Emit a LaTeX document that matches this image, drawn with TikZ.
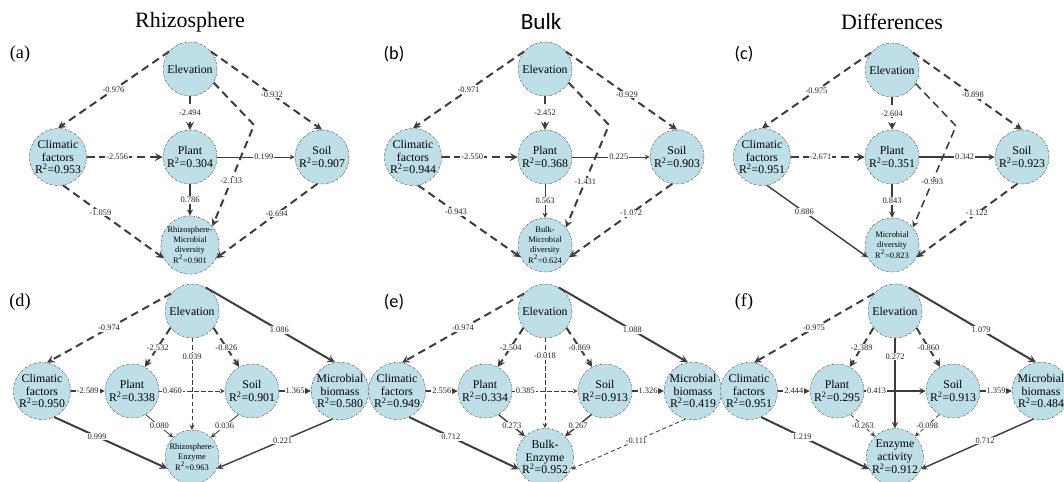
\documentclass[tikz,border=0pt]{standalone}
\usepackage{fontspec}
\setmainfont{Liberation Serif}
\newfontfamily\calibri{Carlito}
\usepackage{xcolor}
\usepackage{tikz}
\usetikzlibrary{arrows, positioning}
\definecolor{nodeblue}{RGB}{190,223,231}
\definecolor{rimgray}{RGB}{90,90,90}
\definecolor{linegray}{RGB}{60,60,60}
\tikzstyle{var} = [circle, minimum size=1.35cm, inner sep=0pt, align=center, draw=rimgray, line width=0.35pt, dash pattern=on 1.6pt off 0.8pt on 0.4pt off 0.8pt, fill=nodeblue, font=\fontsize{8.4}{9.2}\selectfont]
\tikzstyle{smallvar} = [var, font=\fontsize{6}{7}\selectfont]
\tikzstyle{posline} = [->, >=stealth, draw=linegray, line width=0.6pt]
\tikzstyle{poslinemid} = [posline, line width=1pt]
\tikzstyle{poslinethick} = [posline, line width=1.4pt]
\tikzstyle{negline} = [posline, dash pattern=on 3pt off 2pt]
\tikzstyle{neglinethick} = [posline, line width=1.4pt, dash pattern=on 5.5pt off 3.5pt]
\tikzstyle{coef} = [font=\fontsize{6}{7}\selectfont, fill=white, inner sep=0.6pt, text=black!85]
\tikzstyle{heading} = [font=\fontsize{15.6}{18}\selectfont]
\tikzstyle{tag} = [font=\fontsize{13}{15}\selectfont]

\begin{document}
\begin{tikzpicture}[node distance=2cm]
\fill[white] (0,0) rectangle (26.6,-12.025);
\useasboundingbox (0,0) rectangle (26.6,-12.025);

% Headings
\node (headA) [heading] at (4.75,-0.55) {Rhizosphere};
\node (headB) [heading, font=\calibri\fontsize{16.5}{18}\selectfont] at (13.53,-0.55) {Bulk};
\node (headC) [heading] at (22.3,-0.55) {Differences};
\node (tagA) [tag] at (0.5,-1.35) {(a)};
\node (tagB) [tag, font=\calibri\fontsize{13}{15}\selectfont] at (9.85,-1.35) {(b)};
\node (tagC) [tag, font=\calibri\fontsize{13}{15}\selectfont] at (18.6,-1.35) {(c)};
\node (tagD) [tag] at (0.5,-7.55) {(d)};
\node (tagE) [tag, font=\calibri\fontsize{13}{15}\selectfont] at (9.85,-7.55) {(e)};
\node (tagF) [tag] at (18.6,-7.55) {(f)};

% Panel (a)
\node (elevA) [var] at (4.75,-1.725) {Elevation};
\node (plantA) [var, below of=elevA, yshift=-0.2cm] {Plant\\R\textsuperscript{2}=0.304};
\node (climA) [var, left of=plantA, xshift=-1.3cm] {Climatic\\factors\\R\textsuperscript{2}=0.953};
\node (soilA) [var, right of=plantA, xshift=1.3cm] {Soil\\R\textsuperscript{2}=0.907};
\node (divA) [smallvar, below of=plantA, yshift=-0.2cm] {Rhizosphere-\\Microbial\\diversity\\R\textsuperscript{2}=0.901};
\coordinate (kneeA) at ([xshift=1.6cm, yshift=-1.4cm]elevA.center);

\draw [neglinethick] (elevA.140) -- node[coef] {-0.976} (climA.north);
\draw [neglinethick] (elevA.40) -- node[coef, pos=0.55] {-0.932} (soilA.north);
\draw [neglinethick] (elevA.south) -- node[coef] {-2.494} (plantA.north);
\draw [neglinethick] (elevA.-30) -- (kneeA) -- node[coef, pos=0.55] {-2.133} (divA.40);
\draw [neglinethick] (climA.east) -- node[coef, pos=0.4] {-2.556} (plantA.west);
\draw [posline] (plantA.east) -- node[coef, pos=0.6] {0.199} (soilA.west);
\draw [poslinemid] (plantA.south) -- node[coef] {0.786} (divA.north);
\draw [neglinethick] (climA.-80) -- node[coef, pos=0.37] {-1.059} (divA.207);
\draw [neglinethick] (soilA.-100) -- node[coef, pos=0.4] {-0.694} (divA.-27);

% Panel (b)
\node (elevB) [var] at (13.625,-1.725) {Elevation};
\node (plantB) [var, below of=elevB, yshift=-0.2cm] {Plant\\R\textsuperscript{2}=0.368};
\node (climB) [var, left of=plantB, xshift=-1.3cm] {Climatic\\factors\\R\textsuperscript{2}=0.944};
\node (soilB) [var, right of=plantB, xshift=1.3cm] {Soil\\R\textsuperscript{2}=0.903};
\node (divB) [smallvar, below of=plantB, yshift=-0.2cm] {Bulk-\\Microbial\\diversity\\R\textsuperscript{2}=0.624};
\coordinate (kneeB) at ([xshift=1.6cm, yshift=-1.4cm]elevB.center);

\draw [neglinethick] (elevB.140) -- node[coef] {-0.971} (climB.north);
\draw [neglinethick] (elevB.40) -- node[coef, pos=0.55] {-0.929} (soilB.north);
\draw [neglinethick] (elevB.south) -- node[coef] {-2.452} (plantB.north);
\draw [neglinethick] (elevB.-30) -- (kneeB) -- node[coef, pos=0.55] {-1.431} (divB.40);
\draw [neglinethick] (climB.east) -- node[coef, pos=0.4] {-2.550} (plantB.west);
\draw [posline] (plantB.east) -- node[coef, pos=0.6] {0.225} (soilB.west);
\draw [posline] (plantB.south) -- node[coef] {0.563} (divB.north);
\draw [neglinethick] (climB.-80) -- node[coef, pos=0.37] {-0.943} (divB.207);
\draw [neglinethick] (soilB.-100) -- node[coef, pos=0.4] {-1.072} (divB.-27);

% Panel (c)
\node (elevC) [var] at (22.3,-1.75) {Elevation};
\node (plantC) [var, below of=elevC, yshift=-0.175cm] {Plant\\R\textsuperscript{2}=0.351};
\node (climC) [var, left of=plantC, xshift=-1.25cm] {Climatic\\factors\\R\textsuperscript{2}=0.951};
\node (soilC) [var, right of=plantC, xshift=1.25cm] {Soil\\R\textsuperscript{2}=0.923};
\node (divC) [smallvar, below of=plantC, yshift=-0.2cm] {Microbial\\diversity\\R\textsuperscript{2}=0.823};
\coordinate (kneeC) at ([xshift=1.6cm, yshift=-1.4cm]elevC.center);

\draw [neglinethick] (elevC.140) -- node[coef] {-0.975} (climC.north);
\draw [neglinethick] (elevC.40) -- node[coef, pos=0.55] {-0.898} (soilC.north);
\draw [neglinethick] (elevC.south) -- node[coef] {-2.604} (plantC.north);
\draw [neglinethick, line width=1.1pt] (elevC.-30) -- (kneeC) -- node[coef, pos=0.55] {-0.993} (divC.40);
\draw [neglinethick] (climC.east) -- node[coef, pos=0.4] {-2.671} (plantC.west);
\draw [poslinemid] (plantC.east) -- node[coef, pos=0.6] {0.342} (soilC.west);
\draw [poslinemid] (plantC.south) -- node[coef] {0.843} (divC.north);
\draw [poslinemid] (climC.-80) -- node[coef, pos=0.37] {0.886} (divC.207);
\draw [neglinethick] (soilC.-100) -- node[coef, pos=0.4] {-1.122} (divC.-27);

% Panel (d)
\node (elevD) [var] at (4.8,-7.775) {Elevation};
\node (plantD) [var, below of=elevD, xshift=-1.5cm] {Plant\\R\textsuperscript{2}=0.338};
\node (soilD) [var, below of=elevD, xshift=1.5cm] {Soil\\R\textsuperscript{2}=0.901};
\node (climD) [var, left of=plantD, xshift=-0.25cm] {Climatic\\factors\\R\textsuperscript{2}=0.950};
\node (bioD) [var, right of=soilD, xshift=0.2cm] {Microbial\\biomass\\R\textsuperscript{2}=0.580};
\node (enzD) [smallvar, below of=elevD, yshift=-1.65cm] {Rhizosphere-\\Enzyme\\R\textsuperscript{2}=0.963};

\draw [neglinethick] (elevD.140) -- node[coef] {-0.974} (climD.80);
\draw [poslinethick] (elevD.60) -- node[coef, pos=0.57] {1.086} (bioD.100);
\draw [neglinethick] (elevD.218) -- node[coef] {-2.532} (plantD.62);
\draw [neglinethick] (elevD.322) -- node[coef] {-0.826} (soilD.118);
\draw [negline] (elevD.south) -- node[coef, pos=0.2] {0.039} (enzD.north);
\draw [poslinethick] (climD.east) -- node[coef] {-2.589} (plantD.west);
\draw [negline] (plantD.east) -- node[coef, pos=0.2] {0.460} (soilD.west);
\draw [poslinethick] (soilD.east) -- node[coef] {1.365} (bioD.west);
\draw [posline] (plantD.300) -- node[coef] {0.080} (enzD.134);
\draw [posline] (soilD.240) -- node[coef] {0.036} (enzD.46);
\draw [poslinethick] (climD.295) -- node[coef, pos=0.38] {0.999} (enzD.205);
\draw [poslinemid] (bioD.255) -- node[coef, pos=0.43] {0.221} (enzD.335);

% Panel (e)
\node (elevE) [var] at (13.625,-7.775) {Elevation};
\node (plantE) [var, below of=elevE, xshift=-1.5cm] {Plant\\R\textsuperscript{2}=0.334};
\node (soilE) [var, below of=elevE, xshift=1.5cm] {Soil\\R\textsuperscript{2}=0.913};
\node (climE) [var, left of=plantE, xshift=-0.2cm] {Climatic\\factors\\R\textsuperscript{2}=0.949};
\node (bioE) [var, right of=soilE, xshift=0.2cm] {Microbial\\biomass\\R\textsuperscript{2}=0.419};
\node (enzE) [var, below of=elevE, yshift=-1.65cm] {Bulk-\\Enzyme\\R\textsuperscript{2}=0.952};

\draw [neglinethick] (elevE.140) -- node[coef] {-0.974} (climE.80);
\draw [poslinethick] (elevE.60) -- node[coef, pos=0.57] {1.088} (bioE.100);
\draw [neglinethick] (elevE.218) -- node[coef] {-2.504} (plantE.62);
\draw [neglinethick] (elevE.322) -- node[coef] {-0.869} (soilE.118);
\draw [negline] (elevE.south) -- node[coef, pos=0.2] {-0.018} (enzE.north);
\draw [poslinethick] (climE.east) -- node[coef] {2.556} (plantE.west);
\draw [negline] (plantE.east) -- node[coef, pos=0.2] {0.385} (soilE.west);
\draw [poslinethick] (soilE.east) -- node[coef] {1.326} (bioE.west);
\draw [poslinemid] (plantE.300) -- node[coef] {0.273} (enzE.134);
\draw [poslinemid] (soilE.240) -- node[coef] {0.267} (enzE.46);
\draw [poslinethick] (climE.295) -- node[coef, pos=0.38] {0.712} (enzE.205);
\draw [negline] (bioE.255) -- node[coef, pos=0.43] {-0.111} (enzE.335);

% Panel (f)
\node (elevF) [var] at (22.375,-7.775) {Elevation};
\node (plantF) [var, below of=elevF, xshift=-1.45cm] {Plant\\R\textsuperscript{2}=0.295};
\node (soilF) [var, below of=elevF, xshift=1.45cm] {Soil\\R\textsuperscript{2}=0.913};
\node (climF) [var, left of=plantF, xshift=-0.2cm] {Climatic\\factors\\R\textsuperscript{2}=0.951};
\node (bioF) [var, right of=soilF, xshift=0.2cm] {Microbial\\biomass\\R\textsuperscript{2}=0.484};
\node (enzF) [var, below of=elevF, yshift=-1.65cm] {Enzyme\\activity\\R\textsuperscript{2}=0.912};

\draw [neglinethick] (elevF.140) -- node[coef] {-0.975} (climF.80);
\draw [poslinethick] (elevF.60) -- node[coef, pos=0.57] {1.079} (bioF.100);
\draw [neglinethick] (elevF.218) -- node[coef] {-2.389} (plantF.62);
\draw [neglinethick] (elevF.322) -- node[coef] {-0.860} (soilF.118);
\draw [poslinemid] (elevF.south) -- node[coef, pos=0.2] {0.272} (enzF.north);
\draw [neglinethick] (climF.east) -- node[coef] {2.444} (plantF.west);
\draw [poslinemid] (plantF.east) -- node[coef, pos=0.2] {0.413} (soilF.west);
\draw [poslinethick] (soilF.east) -- node[coef] {1.359} (bioF.west);
\draw [negline] (plantF.300) -- node[coef] {-0.263} (enzF.134);
\draw [negline] (soilF.240) -- node[coef] {-0.098} (enzF.46);
\draw [poslinethick] (climF.295) -- node[coef, pos=0.38] {1.219} (enzF.205);
\draw [poslinemid] (bioF.255) -- node[coef, pos=0.43] {0.712} (enzF.335);

\end{tikzpicture}
\end{document}
